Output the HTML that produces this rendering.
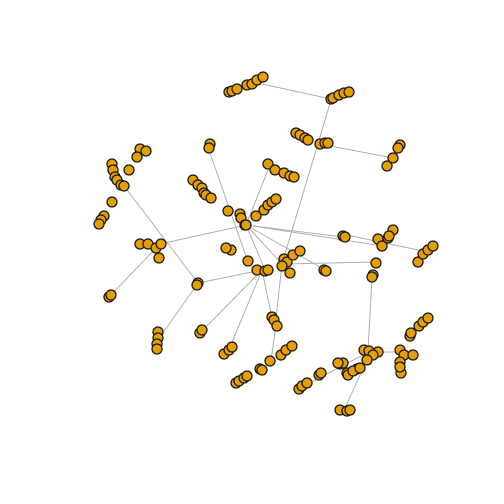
<!DOCTYPE html>
<html><head><meta charset="utf-8"><style>
body{margin:0;background:#fff;}
svg{display:block;}
</style></head><body>
<svg id="chart" width="504" height="504" viewBox="0 0 504 504" xmlns="http://www.w3.org/2000/svg">
<rect width="504" height="504" fill="#fff"/>
<g id="edges"></g>
<g id="nodes"></g>
</svg>
<script>
const nodeX = [229,232,237,247,252,257,263, 331,333,339,344,349, 296,300,305,308, 320,325,328, 400,398,393,387,
140,146,137,129,112,113,115,117,121,124,112,104,101,99, 210,209, 193,198,202,204,206,211,
228,240,241,245,246,256,264,268,272,276, 268,275,284,290,294,
140,148,156,161,159,109,111, 198,197, 158,158,157,157,
257,265,268,248,231,226, 200,202, 224,229,232, 272,274,277, 270,281,286,292, 260,262, 236,239,244,247,
284,287,293,300,282,290, 324,326, 343,345, 378,382,388,393,389, 418,423,428,433, 376,373,372,
364,369,378,373,367,357,347,340,343,348,353,360, 340,347,350, 319,321,338, 299,302,307,
400,404,413,400,401,400, 410,411,419,423,428];
const nodeY = [92,91,89,85,84,80,77, 99,98,95,93,92, 133,135,138,140, 144,143,143, 145,148,158,166,
149,151,157,170,164,170,177,180,185,186,202,216,220,224, 144,148, 180,185,188,193,195,198,
211,214,218,225,225,216,210,205,202,199, 164,170,173,176,177,
244,244,248,244,258,297,295, 283,285, 332,338,344,349,
270,271,270,261,250,248, 333,330, 354,350,347, 317,320,326, 361,355,350,346, 369,370, 383,381,378,376,
259,262,255,251,266,273, 270,271, 236,237, 239,246,238,230,236, 262,254,250,246, 263,275,277,
350,351,352,355,360,369,373,364,363,375,371,368, 410,411,410, 375,373,363, 389,386,383,
350,355,355,362,373,367, 336,333,326,322,318];
const edgeFrom = [[262,84],[331,100],[282,264],[276,325],[325,145],[124,186],[209,150],[246,225],[246,225],[246,225],[246,225],[246,225],[246,225],[246,225],[347,235],
[156,248],[198,283],[198,283],[262,270],[262,270],[262,270],[283,264],[372,278],[367,360],[378,352],[300,388]];
const edgeTo = [[331,99],[282,264],[276,318],[271,360],[388,157],[198,283],[248,262],[268,170],[160,244],[343,237],[383,246],[282,264],[265,270],[325,270],[418,250],
[110,296],[262,270],[158,340],[200,333],[228,352],[272,318],[376,262],[368,350],[345,408],[400,352],[363,355]];
const NS="http://www.w3.org/2000/svg";
const eg=document.getElementById('edges');
for(let i=0;i<edgeFrom.length;i++){
  const l=document.createElementNS(NS,'line');
  l.setAttribute('x1',edgeFrom[i][0]);l.setAttribute('y1',edgeFrom[i][1]);
  l.setAttribute('x2',edgeTo[i][0]);l.setAttribute('y2',edgeTo[i][1]);
  l.setAttribute('stroke','#b0b0b0');l.setAttribute('stroke-width','1');
  
  
  eg.appendChild(l);
}
const ng=document.getElementById('nodes');
for(let i=0;i<nodeX.length;i++){
  const c=document.createElementNS(NS,'circle');
  c.setAttribute('cx',nodeX[i]);c.setAttribute('cy',nodeY[i]);c.setAttribute('r','5');
  c.setAttribute('fill','#E69F00');c.setAttribute('stroke','#1a1a1a');c.setAttribute('stroke-width','1.3');
  
  
  ng.appendChild(c);
}
</script>
</body></html>
